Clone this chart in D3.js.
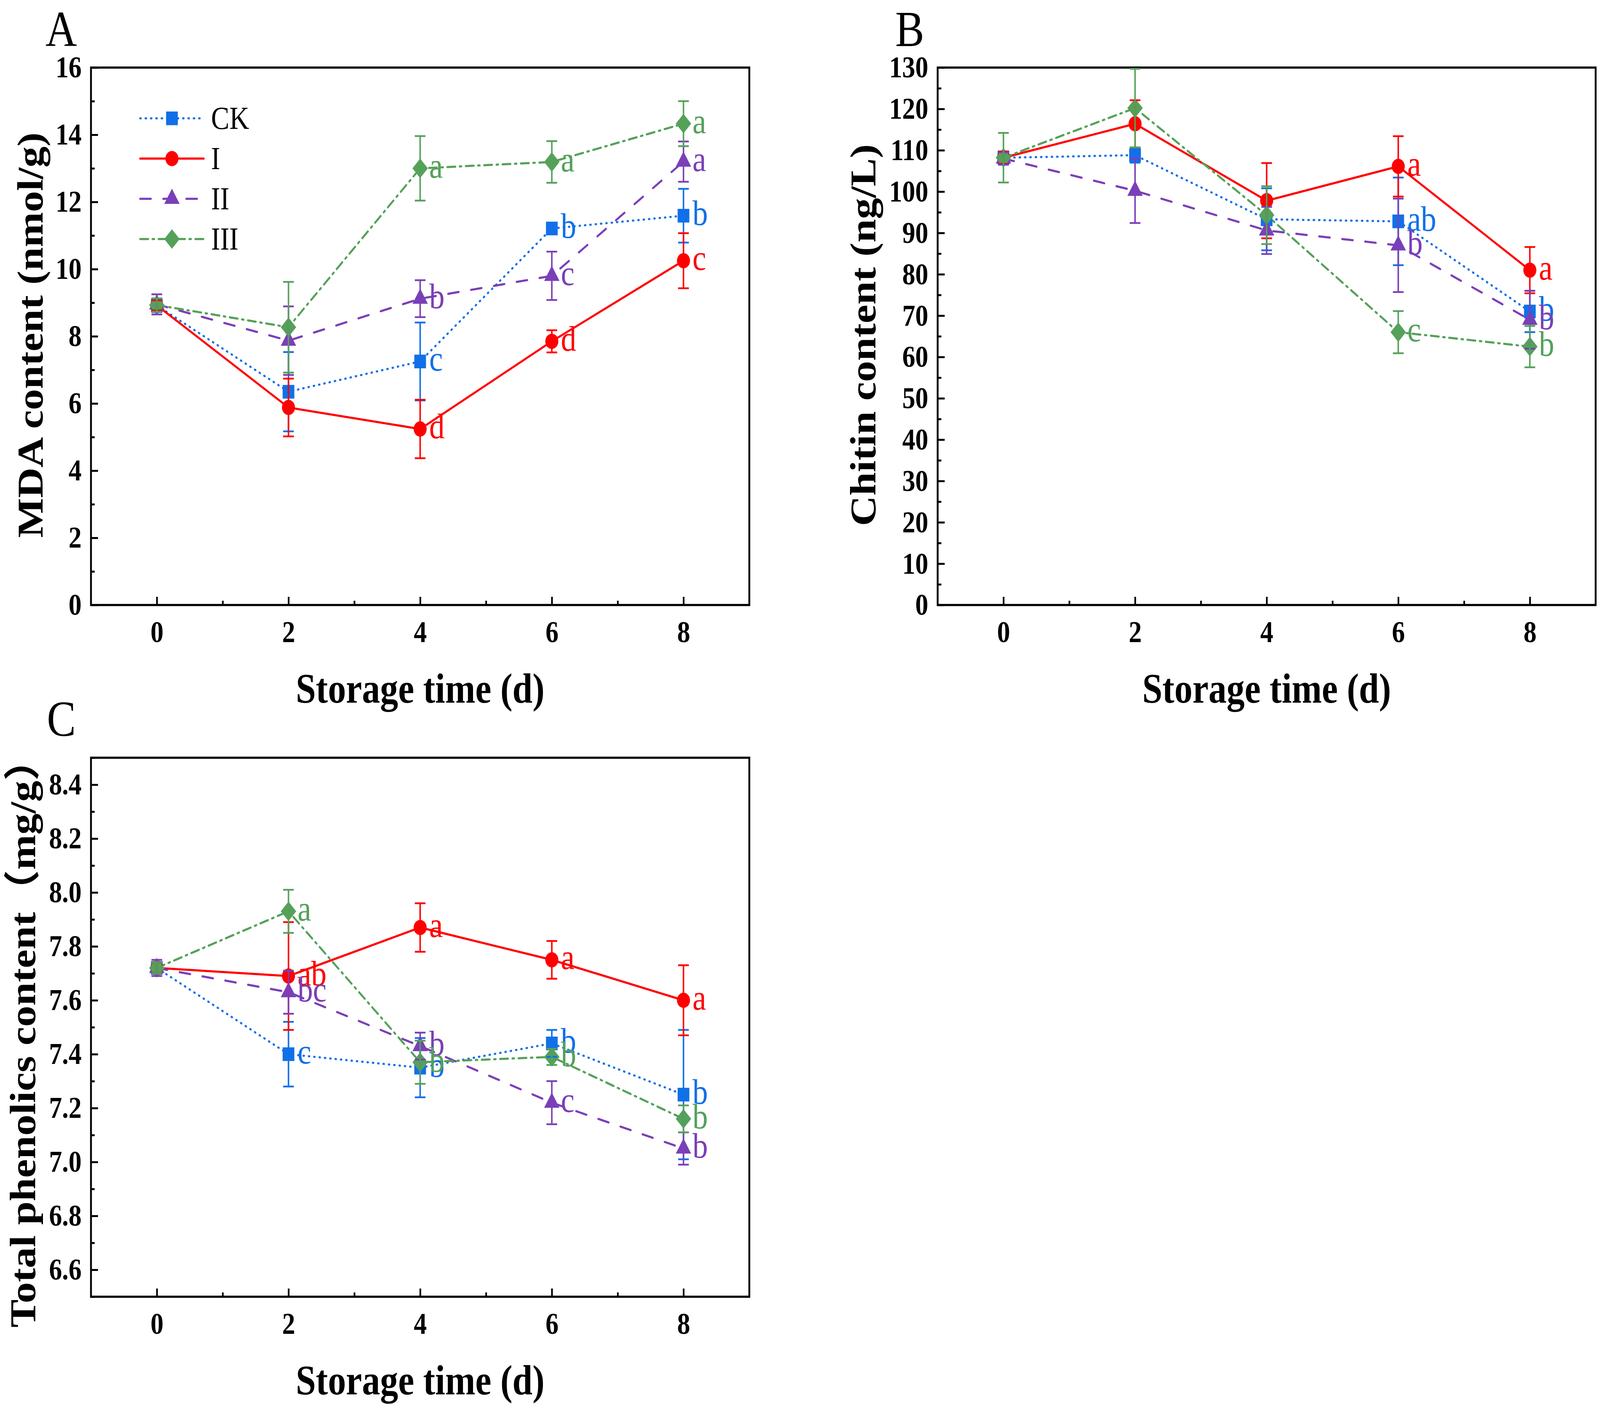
<!DOCTYPE html>
<html>
<head>
<meta charset="utf-8">
<script src="https://cdn.jsdelivr.net/npm/d3@7/dist/d3.min.js"></script>
<style>
  html, body { margin: 0; padding: 0; width: 100%; height: 100%; overflow: hidden; background: #fff; }
  #chart { width: 100vw; height: 100vh; }
  svg { display: block; width: 100vw; height: 100vh; }
</style>
</head>
<body>
<div id="chart"></div>
<script>
// storage days and treatment groups
var days = [0, 2, 4, 6, 8];
var groups = ["CK", "I", "II", "III"];

// A: MDA content (nmol/g), rows follow groups
var mdaMean = [
  [8.92, 6.35, 7.25, 11.21, 11.59],
  [8.92, 5.88, 5.24, 7.85, 10.25],
  [8.95, 7.87, 9.12, 9.80, 13.20],
  [8.93, 8.27, 13.00, 13.19, 14.33]
];
var mdaErr = [
  [0.20, 1.18, 1.16, 0.10, 0.80],
  [0.15, 0.86, 0.87, 0.33, 0.82],
  [0.30, 1.02, 0.55, 0.72, 0.60],
  [0.20, 1.35, 0.96, 0.62, 0.67]
];
var mdaLetters = [
  ["", "", "c", "b", "b"],
  ["", "", "d", "d", "c"],
  ["", "", "b", "c", "a"],
  ["", "", "a", "a", "a"]
];

// B: chitin content (ng/L)
var chitinMean = [
  [108.2, 108.8, 93.3, 92.8, 71.0],
  [108.2, 116.4, 97.8, 106.1, 81.0],
  [108.0, 100.2, 90.6, 87.0, 69.0],
  [108.2, 120.2, 94.3, 66.0, 62.5]
];
var chitinErr = [
  [1.5, 1.8, 7.5, 10.6, 5.0],
  [1.5, 5.7, 9.1, 7.3, 5.6],
  [1.5, 7.8, 5.7, 11.3, 7.0],
  [6.0, 9.5, 7.0, 5.1, 5.0]
];
var chitinLetters = [
  ["", "", "", "ab", "b"],
  ["", "", "", "a", "a"],
  ["", "", "", "b", "b"],
  ["", "", "", "c", "b"]
];

// C: total phenolics content (mg/g)
var phenMean = [
  [7.72, 7.40, 7.35, 7.44, 7.25],
  [7.72, 7.69, 7.87, 7.75, 7.60],
  [7.72, 7.63, 7.43, 7.22, 7.05],
  [7.72, 7.93, 7.37, 7.39, 7.16]
];
var phenErr = [
  [0.02, 0.12, 0.11, 0.05, 0.24],
  [0.02, 0.20, 0.09, 0.07, 0.13],
  [0.03, 0.08, 0.05, 0.08, 0.06],
  [0.02, 0.08, 0.08, 0.03, 0.05]
];
var phenLetters = [
  ["", "c", "b", "b", "b"],
  ["", "ab", "a", "a", "a"],
  ["", "bc", "b", "c", "b"],
  ["", "a", "b", "b", "b"]
];

// tick values
var xMinorTicks = [1, 3, 5, 7];
var mdaTicks = d3.range(0, 17, 2);
var mdaMinor = d3.range(1, 16, 2);
var chitinTicks = d3.range(0, 131, 10);
var chitinMinor = d3.range(5, 130, 10);
var phenTicks = [6.6, 6.8, 7.0, 7.2, 7.4, 7.6, 7.8, 8.0, 8.2, 8.4];
var phenMinor = [6.5, 6.7, 6.9, 7.1, 7.3, 7.5, 7.7, 7.9, 8.1, 8.3, 8.5];

// styles per group
var colors = ["#1170E8", "#FF0000", "#7B3FB8", "#55A15A"];
var dashes = ["2,14", null, "32,37", "24,13,5,13"];
var symbols = ["square", "circle", "triangle", "diamond"];

var serif = "'Liberation Serif', 'Times New Roman', 'Noto Sans CJK SC', serif";

// the drawing works in a 4783 x 3610 frame and is stretched to fill the window
var svg = d3.select("#chart").append("svg")
  .attr("viewBox", "0 0 4783 3610")
  .attr("preserveAspectRatio", "none");

function symbolPath(type) {
  if (type === "square") return "M-17.5,-17.5H17.5V17.5H-17.5Z";
  if (type === "circle") return "M19.5,0A19.5,19.5 0 1,1 -19.5,0A19.5,19.5 0 1,1 19.5,0Z";
  if (type === "triangle") return "M0,-26L23,13H-23Z";
  return "M0,-25L23,0L0,25L-23,0Z";
}

function drawPanel(p) {
  var g = svg.append("g");
  var x = d3.scaleLinear().domain([-1, 9]).range([p.x0, p.x1]);
  var y = d3.scaleLinear().domain(p.yDomain).range([p.y1, p.y0]);

  // axes, inward ticks
  var xAxis = g.append("g")
    .attr("transform", "translate(0," + p.y1 + ")")
    .call(d3.axisBottom(x).tickValues(days).tickSize(-21).tickPadding(40).tickFormat(d3.format("d")));
  var xMinor = g.append("g")
    .attr("transform", "translate(0," + p.y1 + ")")
    .call(d3.axisBottom(x).tickValues(xMinorTicks).tickSize(-11).tickFormat(""));
  var yAxis = g.append("g")
    .attr("transform", "translate(" + p.x0 + ",0)")
    .call(d3.axisLeft(y).tickValues(p.ticks).tickSize(-21).tickPadding(28).tickFormat(p.fmt));
  var yMinor = g.append("g")
    .attr("transform", "translate(" + p.x0 + ",0)")
    .call(d3.axisLeft(y).tickValues(p.minor).tickSize(-11).tickFormat(""));

  [xAxis, xMinor, yAxis, yMinor].forEach(function (a) {
    a.select(".domain").remove();
    a.selectAll(".tick line").attr("stroke-width", 5);
    a.selectAll("text")
      .attr("font-family", serif)
      .attr("font-weight", "bold")
      .attr("font-size", 78)
      .attr("fill", "#000");
  });

  g.append("rect")
    .attr("x", p.x0)
    .attr("y", p.y0)
    .attr("width", p.x1 - p.x0)
    .attr("height", p.y1 - p.y0)
    .attr("fill", "none")
    .attr("stroke", "#000")
    .attr("stroke-width", 5.5);

  // titles
  g.append("text")
    .attr("x", (p.x0 + p.x1) / 2)
    .attr("y", p.y1 + 250)
    .attr("text-anchor", "middle")
    .attr("font-family", serif)
    .attr("font-weight", "bold")
    .attr("font-size", 108)
    .text("Storage time (d)");

  g.append("text")
    .attr("transform", "translate(" + p.titleX + "," + p.titleY + ") rotate(-90)")
    .attr("text-anchor", "middle")
    .attr("font-family", serif)
    .attr("font-weight", "bold")
    .attr("font-size", 108)
    .text(p.yTitle);

  g.append("text")
    .attr("x", p.labelX)
    .attr("y", p.labelY)
    .attr("font-family", serif)
    .attr("font-size", 130)
    .text(p.label);

  var line = d3.line()
    .x(function (d, i) { return x(days[i]); })
    .y(function (d) { return y(d); });

  // lines
  p.means.forEach(function (m, s) {
    g.append("path")
      .datum(m)
      .attr("d", line)
      .attr("fill", "none")
      .attr("stroke", colors[s])
      .attr("stroke-width", 5.5)
      .attr("stroke-linecap", "round")
      .attr("stroke-dasharray", dashes[s]);
  });

  // markers
  p.means.forEach(function (m, s) {
    g.selectAll(null)
      .data(m)
      .enter()
      .append("path")
      .attr("d", symbolPath(symbols[s]))
      .attr("transform", function (d, i) { return "translate(" + x(days[i]) + "," + y(d) + ")"; })
      .attr("fill", colors[s]);
  });

  // error bars
  p.means.forEach(function (m, s) {
    var eg = g.selectAll(null)
      .data(m)
      .enter()
      .append("g")
      .attr("stroke", colors[s])
      .attr("stroke-width", 4.5);
    eg.append("line")
      .attr("x1", function (d, i) { return x(days[i]); })
      .attr("x2", function (d, i) { return x(days[i]); })
      .attr("y1", function (d, i) { return y(d - p.errs[s][i]); })
      .attr("y2", function (d, i) { return y(d + p.errs[s][i]); });
    [-1, 1].forEach(function (k) {
      eg.append("line")
        .attr("x1", function (d, i) { return x(days[i]) - 16; })
        .attr("x2", function (d, i) { return x(days[i]) + 16; })
        .attr("y1", function (d, i) { return y(d + k * p.errs[s][i]); })
        .attr("y2", function (d, i) { return y(d + k * p.errs[s][i]); });
    });
  });

  // significance letters
  p.means.forEach(function (m, s) {
    g.selectAll(null)
      .data(m)
      .enter()
      .append("text")
      .attr("x", function (d, i) { return x(days[i]) + 27; })
      .attr("y", function (d) { return y(d) + 24; })
      .attr("font-family", serif)
      .attr("font-size", 92)
      .attr("fill", colors[s])
      .text(function (d, i) { return p.letters[s][i]; });
  });

  if (p.legend) {
    var lg = g.append("g");
    groups.forEach(function (name, s) {
      var ly = 303 + s * 103;
      lg.append("line")
        .attr("x1", 419).attr("x2", 609)
        .attr("y1", ly).attr("y2", ly)
        .attr("stroke", colors[s])
        .attr("stroke-width", 5.5)
        .attr("stroke-linecap", "round")
        .attr("stroke-dasharray", dashes[s]);
      lg.append("path")
        .attr("d", symbolPath(symbols[s]))
        .attr("transform", "translate(514," + ly + ")")
        .attr("fill", colors[s]);
      lg.append("text")
        .attr("x", 631)
        .attr("y", ly + 27)
        .attr("font-family", serif)
        .attr("font-size", 82)
        .text(name);
    });
  }
}

drawPanel({
  x0: 272, x1: 2240, y0: 173, y1: 1549,
  yDomain: [0, 16], ticks: mdaTicks, minor: mdaMinor, fmt: d3.format("d"),
  means: mdaMean, errs: mdaErr, letters: mdaLetters,
  yTitle: "MDA content (nmol/g)", titleX: 127, titleY: 858,
  label: "A", labelX: 136, labelY: 118, legend: true
});

drawPanel({
  x0: 2803, x1: 4770, y0: 173, y1: 1549,
  yDomain: [0, 130], ticks: chitinTicks, minor: chitinMinor, fmt: d3.format("d"),
  means: chitinMean, errs: chitinErr, letters: chitinLetters,
  yTitle: "Chitin content (ng/L)", titleX: 2617, titleY: 858,
  label: "B", labelX: 2676, labelY: 118, legend: false
});

drawPanel({
  x0: 272, x1: 2240, y0: 1940, y1: 3320,
  yDomain: [6.5, 8.5], ticks: phenTicks, minor: phenMinor, fmt: d3.format(".1f"),
  means: phenMean, errs: phenErr, letters: phenLetters,
  yTitle: "Total phenolics content（mg/g）", titleX: 105, titleY: 2645,
  label: "C", labelX: 140, labelY: 1884, legend: false
});
</script>
</body>
</html>
